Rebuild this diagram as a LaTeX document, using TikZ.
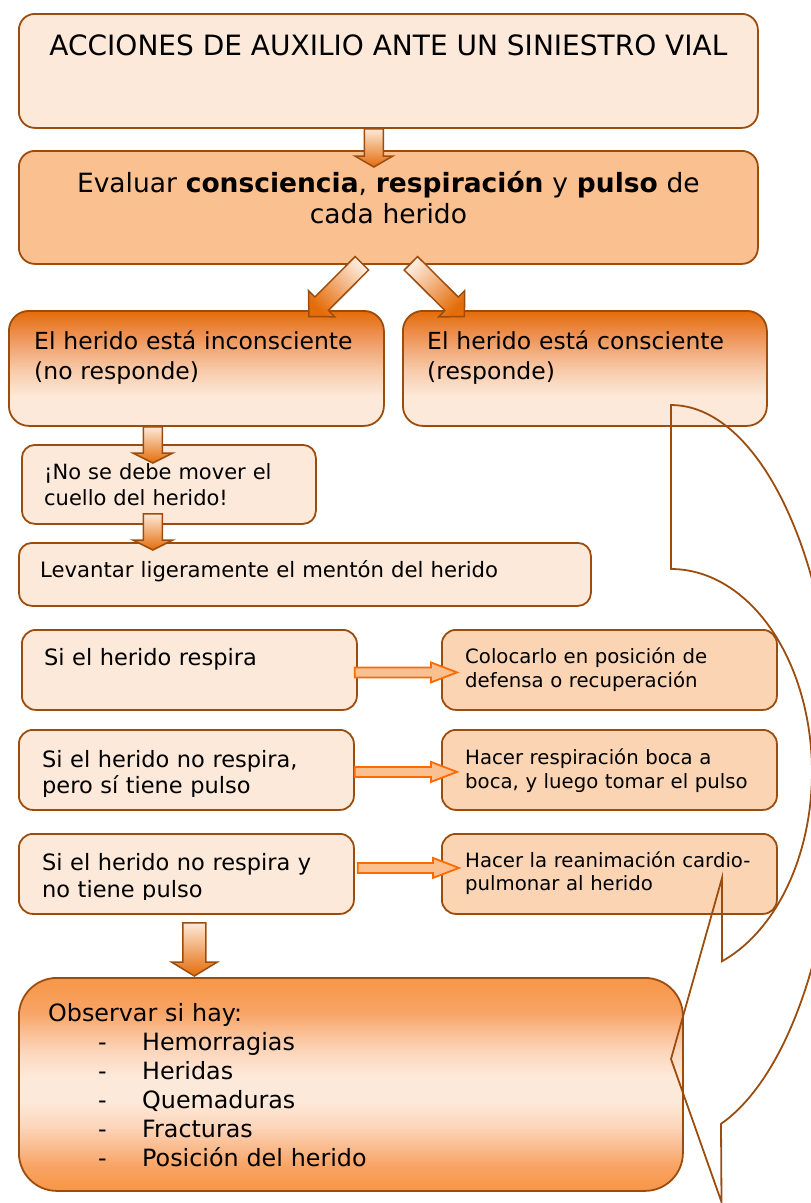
\documentclass[tikz,border=0pt]{standalone}
\usepackage{fontspec}
\setmainfont{DejaVu Sans}
\usetikzlibrary{calc}
\definecolor{brdr}{HTML}{9C4D0E}
\definecolor{peach}{HTML}{FDE9D9}
\definecolor{lightor}{HTML}{FBD4B4}
\definecolor{midor}{HTML}{FAC090}
\definecolor{darkor}{HTML}{E46C0A}
\definecolor{accor}{HTML}{F79646}
\definecolor{brightor}{HTML}{FF6A00}
\definecolor{gA}{HTML}{EE9356}
\definecolor{gB}{HTML}{F7C8A6}
\definecolor{gC}{HTML}{F8A466}
\definecolor{gD}{HTML}{FCD5BA}
\pgfdeclareverticalshading{inconshade}{100bp}{color(0bp)=(peach); color(38bp)=(peach); color(50bp)=(gB); color(64bp)=(gA); color(75bp)=(darkor); color(100bp)=(darkor)}
\pgfdeclareverticalshading{obsshade}{100bp}{color(0bp)=(accor); color(25bp)=(accor); color(31bp)=(gC); color(40bp)=(gD); color(46bp)=(peach); color(52bp)=(peach); color(58bp)=(gD); color(67bp)=(gC); color(75bp)=(accor); color(100bp)=(accor)}
% block arrow: #1 style, #2 start coord, #3 tip coord, #4 shaft half width, #5 head half width, #6 head length
\newcommand\blkarrow[6][]{%
  \coordinate (bahead) at ($(#3)!#6!(#2)$);
  \path[#1] ($(#2)!#4!90:(#3)$) -- ($(bahead)!#4!-90:(#2)$) -- ($(bahead)!#5!-90:(#2)$) -- (#3)
    -- ($(bahead)!#5!90:(#2)$) -- ($(bahead)!#4!90:(#2)$) -- ($(#2)!#4!-90:(#3)$) -- cycle;}
\begin{document}
\begin{tikzpicture}[x=1pt,y=-1pt,
  box/.style={draw=brdr, line width=1.8pt, rounded corners=#1, inner sep=0pt, anchor=north west},
  box/.default=14pt,
  txt/.style={inner sep=0pt, anchor=base west, align=left, text width=#1},
  txt/.default=330pt,
  blkarr/.style={draw=brdr, line width=1.5pt, top color=peach, bottom color=darkor},
  solidarr/.style={draw=brightor, fill=midor, line width=1.8pt},
  curvearr/.style={draw=brdr, line width=1.8pt, line join=miter}]
\useasboundingbox (0,0) rectangle (811,1203);

% boxes
\node[box=16pt, fill=peach, minimum width=739pt, minimum height=114pt] (t) at (18,13) {};
\node[box=16pt, fill=midor, minimum width=739pt, minimum height=113pt] (ev) at (18,150) {};
\node[box=20pt, shade, shading=inconshade, minimum width=375pt, minimum height=115pt] (inc) at (8,310) {};
\node[box=20pt, shade, shading=inconshade, minimum width=364pt, minimum height=115pt] (con) at (402,310) {};
\node[box=13pt, fill=peach, minimum width=294pt, minimum height=79pt] (nomov) at (21,444) {};
\node[box=13pt, fill=peach, minimum width=572pt, minimum height=63pt] (lev) at (18,542) {};
\node[box, fill=peach, minimum width=335pt, minimum height=80pt] (r1) at (21,629) {};
\node[box, fill=lightor, minimum width=335pt, minimum height=80pt] (a1) at (441,629) {};
\node[box, fill=peach, minimum width=335pt, minimum height=80pt] (r2) at (18,729) {};
\node[box, fill=lightor, minimum width=335pt, minimum height=80pt] (a2) at (441,729) {};
\node[box, fill=peach, minimum width=335pt, minimum height=80pt] (r3) at (18,833) {};
\node[box, fill=lightor, minimum width=335pt, minimum height=80pt] (a3) at (441,833) {};
\node[box=38pt, shade, shading=obsshade, minimum width=664pt, minimum height=213pt] (obs) at (18,977) {};

% arrow end points
\coordinate (d1s) at ($(t.south)+(-14.5,0)$);
\coordinate (d1e) at ($(ev.north)+(-14.5,17)$);
\coordinate (dLs) at ($(ev.south)+(-26.5,-1.5)$);
\coordinate (dLe) at ($(inc.north)+(112.5,6.5)$);
\coordinate (dRs) at ($(ev.south)+(22.5,-1.5)$);
\coordinate (dRe) at ($(con.north)+(-120.5,6.5)$);
\coordinate (d3s) at ($(inc.south)+(-43.5,0)$);
\coordinate (d3e) at ($(nomov.north)+(-16,19)$);
\coordinate (d5s) at ($(nomov.south)+(-16,-11)$);
\coordinate (d5e) at ($(lev.north)+(-152,8)$);
\coordinate (d11s) at ($(r3.south)+(8,8)$);
\coordinate (d11e) at ($(obs.north)+(-156.5,-1)$);
\coordinate (h1s) at ($(r1.east)+(-3,2.5)$);
\coordinate (h1e) at ($(a1.west)+(16,2.5)$);
\coordinate (h2s) at ($(r2.east)+(0,2)$);
\coordinate (h2e) at ($(a2.west)+(16,2)$);
\coordinate (h3s) at ($(r3.east)+(3,-6)$);
\coordinate (h3e) at ($(a3.west)+(18,-6)$);

% block arrows
\blkarrow[blkarr]{d1s}{d1e}{9.5pt}{19pt}{11pt}
\blkarrow[blkarr, shading angle=-45]{dLs}{dLe}{9.5pt}{18.5pt}{18pt}
\blkarrow[blkarr, shading angle=45]{dRs}{dRe}{9.5pt}{18.5pt}{18pt}
\blkarrow[blkarr]{d3s}{d3e}{9.5pt}{20pt}{10pt}
\blkarrow[blkarr]{d5s}{d5e}{9.5pt}{20pt}{10pt}
\blkarrow[blkarr]{d11s}{d11e}{11.5pt}{23pt}{14pt}
\blkarrow[solidarr]{h1s}{h1e}{5pt}{10pt}{26pt}
\blkarrow[solidarr]{h2s}{h2e}{5pt}{10pt}{26pt}
\blkarrow[solidarr]{h3s}{h3e}{5pt}{10pt}{26pt}

% texts
\node[inner sep=0pt, anchor=base, font=\fontsize{28}{32}\selectfont] (tt) at ($(t.north)+(0,42)$) {ACCIONES DE AUXILIO ANTE UN SINIESTRO VIAL};
\node[txt=739pt, align=center, anchor=base, font=\fontsize{26.5}{31}\selectfont] (evt) at ($(ev.north)+(0,42)$) {Evaluar \textbf{consciencia}, \textbf{respiración} y \textbf{pulso} de\\cada herido};
\node[txt, font=\fontsize{23.5}{30}\selectfont] (inct) at ($(inc.north west)+(26,39)$) {El herido está inconsciente\\(no responde)};
\node[txt, font=\fontsize{23.5}{30}\selectfont] (cont) at ($(con.north west)+(25,39)$) {El herido está consciente\\(responde)};
\node[txt, font=\fontsize{21}{26}\selectfont] (nomovt) at ($(nomov.north west)+(23,35)$) {¡No se debe mover el\\cuello del herido!};
\node[txt=560pt, font=\fontsize{21.2}{26}\selectfont] (levt) at ($(lev.north west)+(22,35)$) {Levantar ligeramente el mentón del herido};
\node[txt, font=\fontsize{22.5}{27}\selectfont] (r1t) at ($(r1.north west)+(23,36)$) {Si el herido respira};
\node[txt, font=\fontsize{19.7}{24}\selectfont] (a1t) at ($(a1.north west)+(24,34)$) {Colocarlo en posición de\\defensa o recuperación};
\begin{scope}
\clip (0,0) rectangle (811,796);
\node[txt, font=\fontsize{22.5}{26.5}\selectfont] (r2t) at ($(r2.north west)+(24,38)$) {Si el herido no respira,\\pero sí tiene pulso};
\end{scope}
\node[txt, font=\fontsize{19.7}{24}\selectfont] (a2t) at ($(a2.north west)+(24,35)$) {Hacer respiración boca a\\boca, y luego tomar el pulso};
\begin{scope}
\clip (0,0) rectangle (811,899);
\node[txt, font=\fontsize{22.5}{27}\selectfont] (r3t) at ($(r3.north west)+(24,37)$) {Si el herido no respira y\\no tiene pulso};
\end{scope}
\node[txt, font=\fontsize{19.7}{23.5}\selectfont] (a3t) at ($(a3.north west)+(24,34)$) {Hacer la reanimación cardio-\\pulmonar al herido};
\node[txt=600pt, font=\fontsize{23.8}{29}\selectfont] (obst) at ($(obs.north west)+(30,44)$) {Observar si hay:\\
\hspace*{50pt}\makebox[44pt][l]{-}Hemorragias\\
\hspace*{50pt}\makebox[44pt][l]{-}Heridas\\
\hspace*{50pt}\makebox[44pt][l]{-}Quemaduras\\
\hspace*{50pt}\makebox[44pt][l]{-}Fracturas\\
\hspace*{50pt}\makebox[44pt][l]{-}Posición del herido};

% curved arrow outline (partly outside the page, clipped)
\begin{scope}
\clip (0,0) rectangle (811,1203);
\draw[curvearr] (671,569) -- (671,405)
  -- plot[domain=0:162.47, samples=90] ({671+166*sin(\x)},{773-368*cos(\x)})
  -- (721.5,1202) -- (671,1059) -- (722,878) -- (722,961)
  -- plot[domain=158.8:0, samples=90] ({671+141*sin(\x)},{772-203*cos(\x)}) -- cycle;
\end{scope}
\end{tikzpicture}
\end{document}
